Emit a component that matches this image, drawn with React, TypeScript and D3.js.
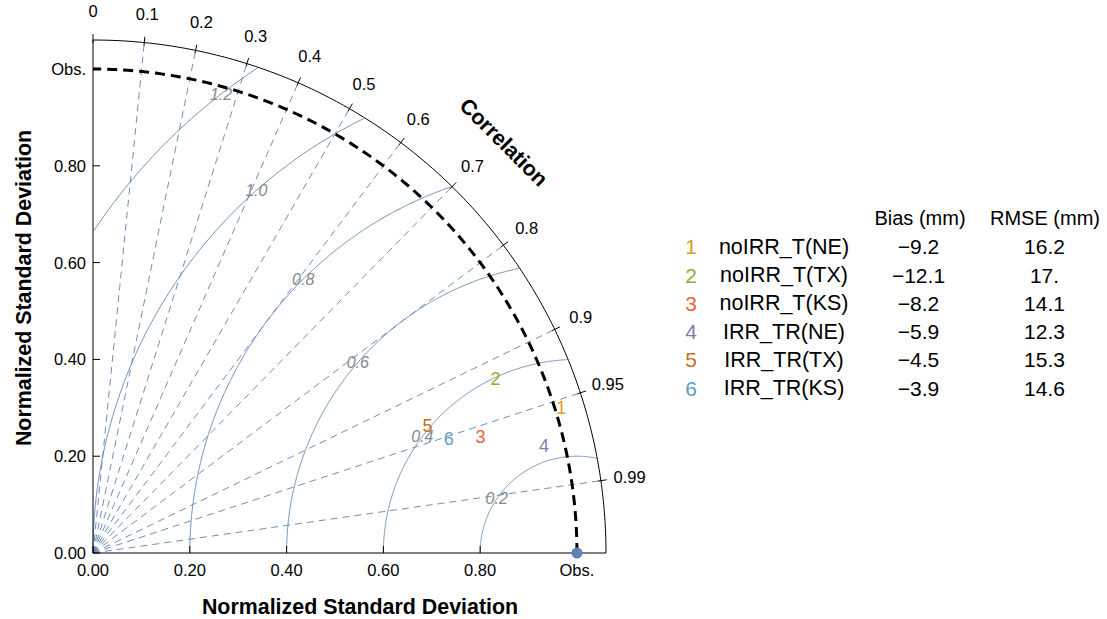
import React from 'react';
import * as d3 from 'd3';

// std-dev axis ticks
const stdTicks = [0, 0.2, 0.4, 0.6, 0.8, 1.0];
const stdTickLabels = ['0.00', '0.20', '0.40', '0.60', '0.80', 'Obs.'];
// correlation ticks around the outer arc
const corrTicks = [0, 0.1, 0.2, 0.3, 0.4, 0.5, 0.6, 0.7, 0.8, 0.9, 0.95, 0.99];
const corrTickLabels = ['0', '0.1', '0.2', '0.3', '0.4', '0.5', '0.6', '0.7', '0.8', '0.9', '0.95', '0.99'];
// centred RMS difference contours
const rmsLevels = [0.2, 0.4, 0.6, 0.8, 1.0, 1.2];
const rmsLabels = ['0.2', '0.4', '0.6', '0.8', '1.0', '1.2'];
const rmsLabelAngles = [146, 143, 139, 135, 131.5, 127.8];

const modelIds = ['1', '2', '3', '4', '5', '6'];
const modelNames = ['noIRR_T(NE)', 'noIRR_T(TX)', 'noIRR_T(KS)', 'IRR_TR(NE)', 'IRR_TR(TX)', 'IRR_TR(KS)'];
const modelStd = [1.013, 0.906, 0.836, 0.958, 0.739, 0.772];
const modelCorr = [0.955, 0.918, 0.958, 0.973, 0.935, 0.952];
const biasValues = ['\u22129.2', '\u221212.1', '\u22128.2', '\u22125.9', '\u22124.5', '\u22123.9'];
const rmseValues = ['16.2', '17.', '14.1', '12.3', '15.3', '14.6'];
const modelColors = ['#E19C24', '#8FB032', '#EB6235', '#8778B3', '#C56E1A', '#5D9EC7'];

const W = 1107, H = 619;
const ox = 93, oy = 553;
const rMax = 1.06;
const font = 'Liberation Sans, Arial, Helvetica, sans-serif';
const grid = '#5E81B5';

export default function App() {
  const s = d3.scaleLinear().domain([0, rMax]).range([0, 513]);
  const px = (x: number) => ox + s(x);
  const py = (y: number) => oy - s(y);
  const polar = (r: number, c: number) => {
    const a = Math.acos(c);
    return [px(r * Math.cos(a)), py(r * Math.sin(a))];
  };
  const line = d3.line<[number, number]>().x(d => px(d[0])).y(d => py(d[1]));

  const arcPts = (r: number, a0: number, a1: number, n = 200): [number, number][] =>
    d3.range(n + 1).map(i => {
      const a = a0 + (a1 - a0) * i / n;
      return [r * Math.cos(a), r * Math.sin(a)];
    });

  const outer = line(arcPts(rMax, 0, Math.PI / 2));
  const obsArc = line(arcPts(1, 0, Math.PI / 2));

  const rmsPath = (r: number) => {
    const pts: [number, number][] = d3.range(0, 1001).map(i => {
      const a = Math.PI * i / 1000;
      return [1 + r * Math.cos(a), r * Math.sin(a)] as [number, number];
    }).filter(p => p[0] >= -1e-9 && Math.hypot(p[0], p[1]) <= rMax + 1e-9);
    return line(pts);
  };

  return (
    <svg width={W} height={H} style={{ position: 'absolute', left: 0, top: 0, background: '#fff' }}
      fontFamily={font}>
      {/* correlation rays */}
      {corrTicks.slice(1).map((c, i) => {
        const [x2, y2] = polar(rMax, c);
        return <line key={'cl' + i} x1={ox} y1={oy} x2={x2} y2={y2} stroke={grid}
          strokeWidth={0.9} strokeDasharray="7,5" />;
      })}
      {/* RMS contours */}
      {rmsLevels.map((r, i) => (
        <path key={'rm' + i} d={rmsPath(r) || ''} fill="none" stroke={grid} strokeWidth={0.9} />
      ))}
      {rmsLevels.map((r, i) => {
        const a = rmsLabelAngles[i] * Math.PI / 180;
        return <text key={'rl' + i} x={px(1 + r * Math.cos(a))} y={py(r * Math.sin(a))}
          fontSize={16} fontStyle="italic" fill="#888" textAnchor="middle" dominantBaseline="central">
          {rmsLabels[i]}</text>;
      })}
      {/* observed std arc */}
      <path d={obsArc || ''} fill="none" stroke="#000" strokeWidth={3} strokeDasharray="10,6" />
      {/* frame */}
      <path d={outer || ''} fill="none" stroke="#000" strokeWidth={1} />
      <line x1={ox} y1={oy} x2={px(rMax)} y2={oy} stroke="#000" />
      <line x1={ox} y1={oy} x2={ox} y2={py(rMax)} stroke="#000" />
      {/* correlation ticks + labels */}
      {corrTicks.map((c, i) => {
        const [x1, y1] = polar(rMax - 0.006, c);
        const [x2, y2] = polar(rMax + 0.012, c);
        const [lx, ly] = polar(1.12, c);
        return <g key={'ct' + i}>
          <line x1={x1} y1={y1} x2={x2} y2={y2} stroke="#000" />
          <text x={lx} y={ly} fontSize={16.5} textAnchor="middle" dominantBaseline="central">{corrTickLabels[i]}</text>
        </g>;
      })}
      {/* std ticks */}
      {stdTicks.map((t, i) => (
        <g key={'st' + i}>
          {t < 1 && <line x1={px(t)} y1={oy} x2={px(t)} y2={oy - 7} stroke="#000" />}
          {t < 1 && <line x1={ox} y1={py(t)} x2={ox + 7} y2={py(t)} stroke="#000" />}
          <text x={px(t)} y={oy + 17} fontSize={16.5} textAnchor="middle" dominantBaseline="central">{stdTickLabels[i]}</text>
          <text x={ox - 7} y={py(t)} fontSize={16.5} textAnchor="end" dominantBaseline="central">{stdTickLabels[i]}</text>
        </g>
      ))}
      {/* axis titles */}
      <text x={360} y={607} fontSize={21.4} fontWeight="bold" textAnchor="middle" dominantBaseline="central">
        Normalized Standard Deviation</text>
      <text transform={`translate(24,288) rotate(-90)`} fontSize={21.4} fontWeight="bold" textAnchor="middle"
        dominantBaseline="central">Normalized Standard Deviation</text>
      {(() => {
        const [cx, cy] = polar(1.2, Math.cos(Math.PI / 4));
        return <text transform={`translate(${cx},${cy}) rotate(45)`} fontSize={21.4} fontWeight="bold"
          textAnchor="middle" dominantBaseline="central">Correlation</text>;
      })()}
      {/* obs point */}
      <circle cx={px(1)} cy={oy} r={5.5} fill={grid} />
      {/* models */}
      {modelIds.map((id, i) => {
        const [x, y] = polar(modelStd[i], modelCorr[i]);
        return <text key={'m' + i} x={x} y={y} fontSize={18} fill={modelColors[i]} textAnchor="middle"
          dominantBaseline="central">{id}</text>;
      })}
      {/* legend table */}
      <g fontSize={20} dominantBaseline="central">
        <text x={920} y={218} textAnchor="middle">Bias (mm)</text>
        <text x={1045} y={218} textAnchor="middle">RMSE (mm)</text>
        {modelIds.map((id, i) => {
          const y = 246.7 + i * 28.3;
          return <g key={'lg' + i}>
            <text x={691} y={y} fontSize={21} textAnchor="middle" fill={modelColors[i]}>{id}</text>
            <text x={784} y={y} fontSize={21.5} textAnchor="middle">{modelNames[i]}</text>
            <text x={918.5} y={y} fontSize={21} textAnchor="middle">{biasValues[i]}</text>
            <text x={1044.5} y={y} fontSize={21} textAnchor="middle">{rmseValues[i]}</text>
          </g>;
        })}
      </g>
    </svg>
  );
}
